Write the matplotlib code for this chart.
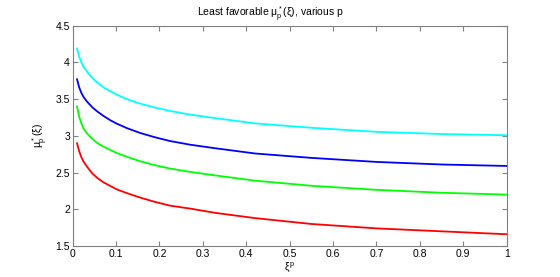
import matplotlib
matplotlib.use('Agg')
import matplotlib.pyplot as plt

# values (xi^p on x axis)
xi = [0.01, 0.015, 0.02, 0.025, 0.033, 0.045, 0.056, 0.07, 0.086, 0.102,
      0.125, 0.155, 0.19, 0.224, 0.27, 0.33, 0.42, 0.55, 0.70, 0.85, 1.00]
mu_cyan = [4.19, 4.08, 4.00, 3.94, 3.875, 3.79, 3.73, 3.665, 3.61, 3.56,
           3.50, 3.44, 3.385, 3.34, 3.29, 3.24, 3.17, 3.11, 3.055, 3.025, 3.008]
mu_blue = [3.77, 3.66, 3.585, 3.53, 3.466, 3.39, 3.335, 3.275, 3.215, 3.165,
           3.105, 3.04, 2.98, 2.93, 2.88, 2.83, 2.76, 2.70, 2.645, 2.61, 2.59]
mu_green = [3.40, 3.26, 3.17, 3.10, 3.035, 2.96, 2.905, 2.855, 2.81, 2.765,
            2.715, 2.655, 2.60, 2.555, 2.51, 2.46, 2.39, 2.32, 2.265, 2.225, 2.20]
mu_red = [2.90, 2.79, 2.71, 2.65, 2.58, 2.49, 2.43, 2.37, 2.32, 2.27,
          2.22, 2.16, 2.10, 2.05, 2.01, 1.95, 1.88, 1.80, 1.74, 1.70, 1.66]

xticks = [0, 0.1, 0.2, 0.3, 0.4, 0.5, 0.6, 0.7, 0.8, 0.9, 1]
xticklabels = ['0', '0.1', '0.2', '0.3', '0.4', '0.5', '0.6', '0.7', '0.8', '0.9', '1']
yticks = [1.5, 2, 2.5, 3, 3.5, 4, 4.5]
yticklabels = ['1.5', '2', '2.5', '3', '3.5', '4', '4.5']

plt.rcParams['font.family'] = ['Liberation Sans', 'DejaVu Sans']
plt.rcParams['mathtext.fontset'] = 'custom'
plt.rcParams['mathtext.rm'] = 'Liberation Sans'
plt.rcParams['mathtext.it'] = 'Liberation Sans'

fig = plt.figure(figsize=(5.6, 2.77), dpi=100)
ax = fig.add_axes([0.1298, 0.1119, 0.775, 0.7953])

lw = 1.3
ax.plot(xi, mu_cyan, color=(0, 1, 1), lw=lw)
ax.plot(xi, mu_blue, color=(0, 0, 1), lw=lw)
ax.plot(xi, mu_green, color=(0, 1, 0), lw=lw)
ax.plot(xi, mu_red, color=(1, 0, 0), lw=lw)

ax.set_xlim(0, 1)
ax.set_ylim(1.5, 4.5)
ax.set_xticks(xticks)
ax.set_xticklabels(xticklabels)
ax.set_yticks(yticks)
ax.set_yticklabels(yticklabels)

gray = '#808080'
for s in ax.spines.values():
    s.set_color(gray)
    s.set_linewidth(0.8)
ax.tick_params(direction='in', top=True, right=True, length=3.5, width=0.8,
               color=gray, labelsize=7.5, pad=2, labelcolor='black')

ax.set_title(r'Least favorable $\mu_p^*(\xi)$, various p', fontsize=7.5, x=0.455, pad=6)
ax.set_xlabel(r'$\xi^p$', fontsize=7.5, labelpad=1)
ax.set_ylabel(r'$\mu_p^*(\xi)$', fontsize=7.5, labelpad=4)

fig.savefig('out.png', dpi=100)
